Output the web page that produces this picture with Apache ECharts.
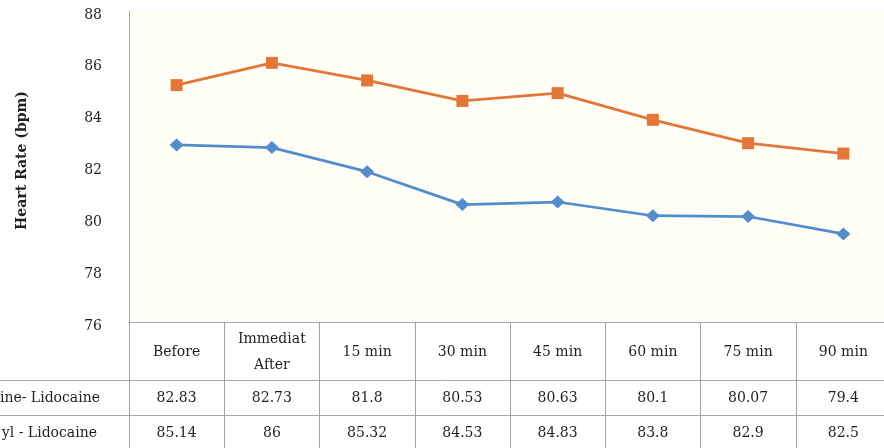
<!DOCTYPE html>
<html>
<head>
<meta charset="utf-8">
<script src="https://cdn.jsdelivr.net/npm/echarts@6/dist/echarts.min.js"></script>
<style>
  html, body { margin: 0; padding: 0; background: #ffffff; overflow: hidden; }
  #chart { width: 891px; height: 448px; }
</style>
</head>
<body>
<div id="chart"></div>
<script>
// Time points (header row of the data table)
const categories = ['Before', 'Immediat\nAfter', '15 min', '30 min', '45 min', '60 min', '75 min', '90 min'];
// Mean heart rate per group (bpm)
const groupA = [82.83, 82.73, 81.8, 80.53, 80.63, 80.1, 80.07, 79.4];
const groupB = [85.14, 86, 85.32, 84.53, 84.83, 83.8, 82.9, 82.5];
// Row captions of the data table
const rowLabels = ['ine- Lidocaine', 'yl - Lidocaine'];
// Value axis range
const yMin = 76, yMax = 88, yStep = 2;

const FONT = '"DejaVu Serif", "Liberation Serif", serif';
const TEXT = '#1f1f1f';
const RULE = '#a6a6a6';
const BLUE = '#548dcb';
const ORANGE = '#e3773a';
const FS = 14;

const chart = echarts.init(document.getElementById('chart'), null, { renderer: 'canvas' });

const tableRow = (values, margin) => ({
  type: 'category',
  gridIndex: 0,
  position: 'bottom',
  data: categories,
  boundaryGap: true,
  axisLine: { show: false },
  axisTick: { show: false },
  splitLine: { show: false },
  axisLabel: {
    interval: 0,
    margin: margin,
    verticalAlign: 'middle',
    fontFamily: FONT,
    fontSize: FS,
    color: TEXT,
    formatter: (v, i) => String(values[i])
  }
});

chart.setOption({
  animation: false,
  backgroundColor: '#ffffff',
  grid: {
    left: 129, top: 11, right: 0, height: 311,
    show: true, backgroundColor: '#fefef7', borderWidth: 0
  },
  xAxis: [
    {
      type: 'category',
      position: 'bottom',
      data: categories,
      boundaryGap: true,
      axisLine: { show: true, lineStyle: { color: RULE, width: 1 } },
      axisTick: { show: true, inside: false, length: 130, interval: 0, lineStyle: { color: RULE, width: 1 } },
      splitLine: { show: false },
      axisLabel: {
        interval: 0,
        margin: 30,
        verticalAlign: 'middle',
        lineHeight: 26,
        fontFamily: FONT,
        fontSize: FS,
        color: TEXT
      }
    },
    tableRow(groupA, 76),
    tableRow(groupB, 111)
  ],
  yAxis: {
    type: 'value',
    min: yMin, max: yMax, interval: yStep,
    name: 'Heart Rate (bpm)',
    nameLocation: 'middle',
    nameRotate: 90,
    nameGap: 100,
    nameTextStyle: { fontFamily: FONT, fontSize: FS, fontWeight: 'bold', color: TEXT, padding: [0, 0, 0, 12] },
    axisLine: { show: true, lineStyle: { color: RULE, width: 1 } },
    axisTick: { show: false },
    splitLine: { show: false },
    axisLabel: {
      margin: 27,
      fontFamily: FONT, fontSize: FS, color: TEXT,
      formatter: '{t|{value}}',
      rich: { t: { fontFamily: FONT, fontSize: FS, color: TEXT, padding: [8, 0, 0, 0] } }
    }
  },
  series: [
    {
      name: rowLabels[0],
      type: 'line',
      data: groupA,
      xAxisIndex: 0,
      symbol: 'diamond',
      symbolSize: [14, 13],
      lineStyle: { color: BLUE, width: 2.75 },
      itemStyle: { color: BLUE },
      z: 3
    },
    {
      name: rowLabels[1],
      type: 'line',
      data: groupB,
      xAxisIndex: 0,
      symbol: 'rect',
      symbolSize: 12,
      lineStyle: { color: ORANGE, width: 2.75 },
      itemStyle: { color: ORANGE },
      z: 3
    }
  ],
  graphic: [
    { type: 'line', shape: { x1: 0, y1: 380.5, x2: 891, y2: 380.5 }, style: { stroke: RULE, lineWidth: 1 }, silent: true },
    { type: 'line', shape: { x1: 0, y1: 415.5, x2: 891, y2: 415.5 }, style: { stroke: RULE, lineWidth: 1 }, silent: true },
    { type: 'text', x: 100, y: 398, style: { text: rowLabels[0], font: FS + 'px ' + FONT, fill: TEXT, align: 'right', verticalAlign: 'middle' }, silent: true },
    { type: 'text', x: 97, y: 433, style: { text: rowLabels[1], font: FS + 'px ' + FONT, fill: TEXT, align: 'right', verticalAlign: 'middle' }, silent: true }
  ]
});
</script>
</body>
</html>
